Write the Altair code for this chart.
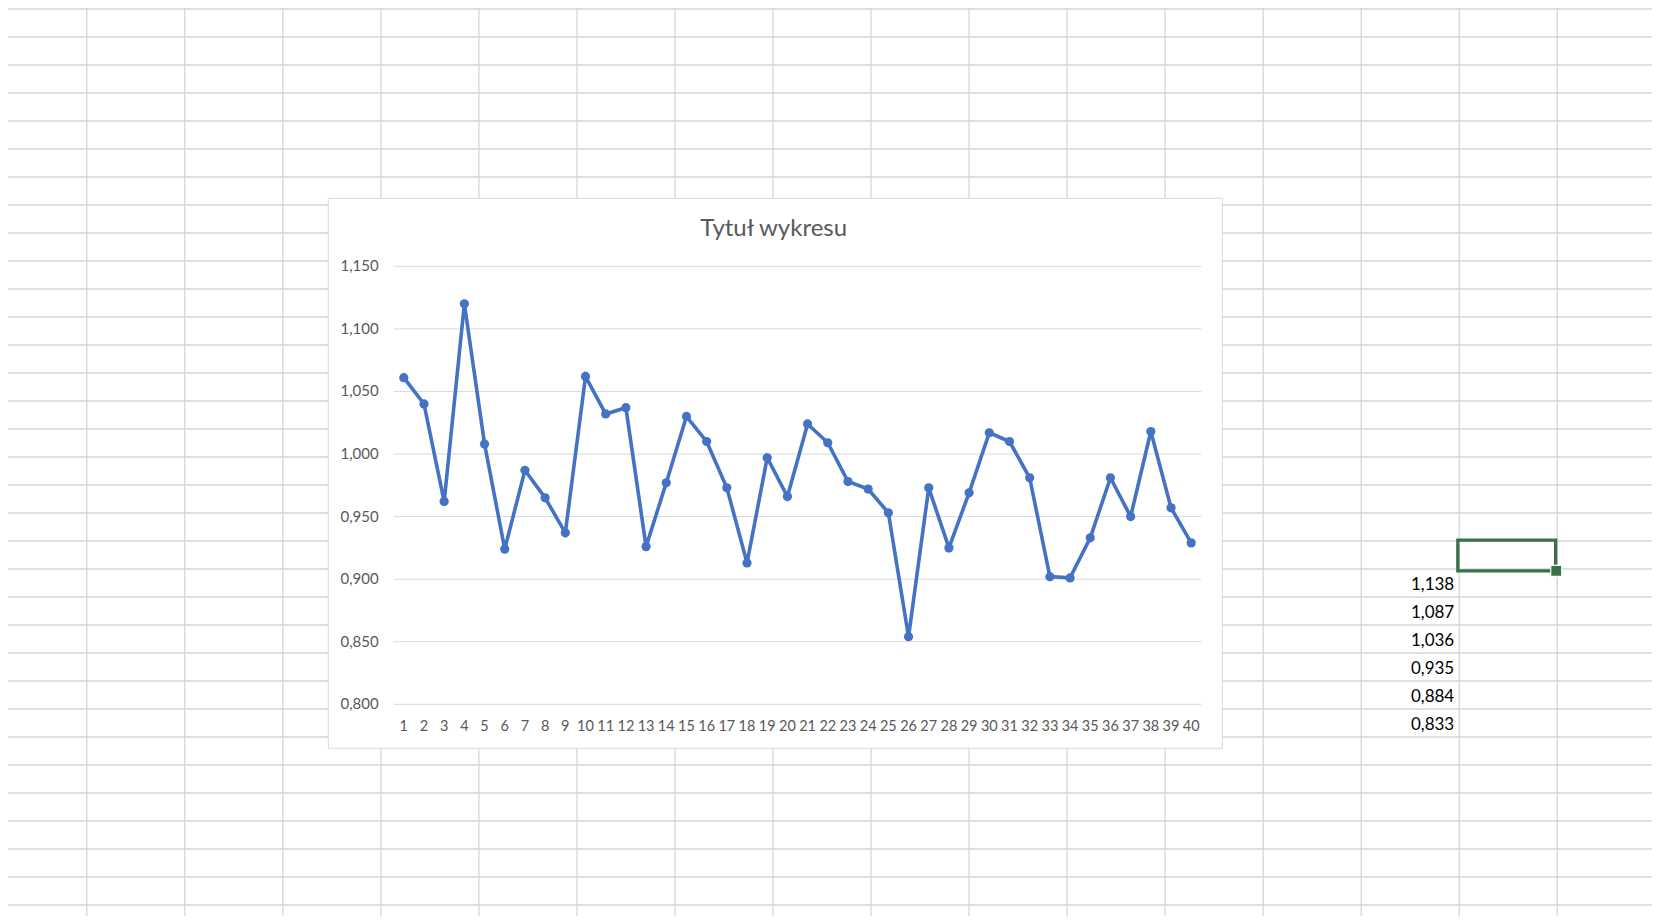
import altair as alt
import pandas as pd

# ---------------- data ----------------
CATEGORIES = list(range(1, 41))
VALUES = [1.061, 1.040, 0.962, 1.120, 1.008, 0.924, 0.987, 0.965, 0.937, 1.062,
          1.032, 1.037, 0.926, 0.977, 1.030, 1.010, 0.973, 0.913, 0.997, 0.966,
          1.024, 1.009, 0.978, 0.972, 0.953, 0.854, 0.973, 0.925, 0.969, 1.017,
          1.010, 0.981, 0.902, 0.901, 0.933, 0.981, 0.950, 1.018, 0.957, 0.929]
Y_TICKS = [0.80, 0.85, 0.90, 0.95, 1.00, 1.05, 1.10, 1.15]
Y_LABELS = ["0,800", "0,850", "0,900", "0,950", "1,000", "1,050", "1,100", "1,150"]
TITLE = "Tytuł wykresu"
CELL_VALUES = ["1,138", "1,087", "1,036", "0,935", "0,884", "0,833"]

# ---------------- layout (page pixels) ----------------
PAGE_W, PAGE_H, MARGIN = 1660, 924, 8
PL, PT, PR, PB = 393.7, 266.3, 1201.3, 704.3          # plot area
W, H = PR - PL, PB - PT
BOX = (328.3, 198.3, 1222.3, 748.3)                   # chart frame
COL_X0, COL_W, N_COLS = 86.8, 98.03, 17               # spreadsheet columns
ROW_Y0, ROW_H, N_ROWS = 9.0, 28.0, 33                 # spreadsheet rows
CELL_COL, CELL_ROW0 = 13, 20                          # column / first row of the values
SEL_COL, SEL_ROW = 14, 19                             # selected cell

BLUE = "#4472C4"
LABEL_C = "#595959"
SHEET_C = "#d5d5d5"
FRAME_C = "#d9d9d9"
GREEN = "#3A7048"
FONT = "Lato"


def sx():
    return alt.Scale(domain=[0, PAGE_W], range=[-PL, PAGE_W - PL], nice=False, zero=False)


def sy():
    return alt.Scale(domain=[0, PAGE_H], range=[-PT, PAGE_H - PT], nice=False, zero=False)


def X(f):
    return alt.X(f, scale=sx(), axis=None)


def Y(f):
    return alt.Y(f, scale=sy(), axis=None)


# ---------------- spreadsheet background ----------------
vdf = pd.DataFrame({"x": [COL_X0 + COL_W * k for k in range(N_COLS)]})
vdf["y0"], vdf["y1"] = 0, PAGE_H
hdf = pd.DataFrame({"y": [ROW_Y0 + ROW_H * k for k in range(N_ROWS)]})
hdf["x0"], hdf["x1"] = 0, PAGE_W

sheet_v = alt.Chart(vdf).mark_rule(color=SHEET_C, strokeWidth=1.3).encode(
    x=X("x:Q"), y=Y("y0:Q"), y2="y1:Q")
sheet_h = alt.Chart(hdf).mark_rule(color=SHEET_C, strokeWidth=1.3).encode(
    x=X("x0:Q"), x2="x1:Q", y=Y("y:Q"))

boxdf = pd.DataFrame({"x0": [BOX[0]], "y0": [BOX[1]], "x1": [BOX[2]], "y1": [BOX[3]]})
frame = alt.Chart(boxdf).mark_rect(fill="white", stroke=FRAME_C, strokeWidth=1).encode(
    x=X("x0:Q"), x2="x1:Q", y=Y("y0:Q"), y2="y1:Q")

cell_right = COL_X0 + COL_W * (CELL_COL + 1) - 5
celldf = pd.DataFrame({
    "t": CELL_VALUES,
    "x": [cell_right] * len(CELL_VALUES),
    "y": [ROW_Y0 + ROW_H * (CELL_ROW0 + i) + ROW_H / 2 + 1.5 for i in range(len(CELL_VALUES))],
})
cells = alt.Chart(celldf).mark_text(
    align="right", baseline="middle", font=FONT, fontSize=17, color="#000000"
).encode(x=X("x:Q"), y=Y("y:Q"), text="t:N")

sx0 = COL_X0 + COL_W * SEL_COL
sy0 = ROW_Y0 + ROW_H * SEL_ROW
seldf = pd.DataFrame({"x0": [sx0 - 1.4], "x1": [sx0 + COL_W - 1.6],
                      "y0": [sy0 - 0.8], "y1": [sy0 + ROW_H + 1.8]})
sel = alt.Chart(seldf).mark_rect(fill="transparent", stroke=GREEN, strokeWidth=3.3).encode(
    x=X("x0:Q"), x2="x1:Q", y=Y("y0:Q"), y2="y1:Q")
hx, hy = sx0 + COL_W - 1.0, sy0 + ROW_H + 1.8
handf = pd.DataFrame({"x0": [hx - 5.5], "x1": [hx + 5.5], "y0": [hy - 5.5], "y1": [hy + 5.5]})
handle = alt.Chart(handf).mark_rect(fill=GREEN, stroke="white", strokeWidth=1.2).encode(
    x=X("x0:Q"), x2="x1:Q", y=Y("y0:Q"), y2="y1:Q")

sheet = alt.layer(sheet_v, sheet_h, frame, cells, sel, handle)

# ---------------- the line chart ----------------
df = pd.DataFrame({"n": CATEGORIES, "v": VALUES})
ticks_df = pd.DataFrame({"tick": Y_TICKS, "label": Y_LABELS})
yscale = alt.Scale(domain=[Y_TICKS[0], Y_TICKS[-1]], nice=False, zero=False)
xscale = alt.Scale(type="point", padding=0.5)

grid = alt.Chart(ticks_df).mark_rule(color=FRAME_C, strokeWidth=1).encode(
    y=alt.Y("tick:Q", scale=yscale, axis=None), x=alt.value(0), x2=alt.value("width"))

ylabels = alt.Chart(ticks_df).mark_text(
    align="right", baseline="middle", font=FONT, fontSize=15, color=LABEL_C
).encode(y=alt.Y("tick:Q", scale=yscale, axis=None), x=alt.value(-15), text="label:N")

xlabels = alt.Chart(df).mark_text(
    align="center", baseline="top", font=FONT, fontSize=14.5, color=LABEL_C
).encode(x=alt.X("n:O", scale=xscale, sort=CATEGORIES, axis=None),
         y=alt.value(H + 15.8), text="n:N")

line = alt.Chart(df).mark_line(color=BLUE, strokeWidth=3.6).encode(
    x=alt.X("n:O", scale=xscale, sort=CATEGORIES, axis=None),
    y=alt.Y("v:Q", scale=yscale, axis=None),
)
pts = alt.Chart(df).mark_circle(color=BLUE, size=85, opacity=1).encode(
    x=alt.X("n:O", scale=xscale, sort=CATEGORIES, axis=None),
    y=alt.Y("v:Q", scale=yscale, axis=None),
)
plot = alt.layer(grid, ylabels, xlabels, line, pts)

title = alt.Chart(pd.DataFrame({"t": [TITLE]})).mark_text(
    font=FONT, fontSize=24, color=LABEL_C, align="center", baseline="alphabetic"
).encode(text="t:N", x=alt.value((BOX[0] + BOX[2]) / 2 - 1.6 - PL), y=alt.value(236.0 - PT))

chart = alt.layer(sheet, plot, title).resolve_scale(
    x="independent", y="independent"
).properties(
    width=W, height=H, background="white",
    padding={"left": PL - MARGIN, "top": PT - MARGIN,
             "right": PAGE_W - MARGIN - PR, "bottom": PAGE_H - MARGIN - PB},
    autosize=alt.AutoSizeParams(type="none"),
).configure_view(stroke=None)

chart.save("out.html", embed_options={"renderer": "svg", "actions": False})
